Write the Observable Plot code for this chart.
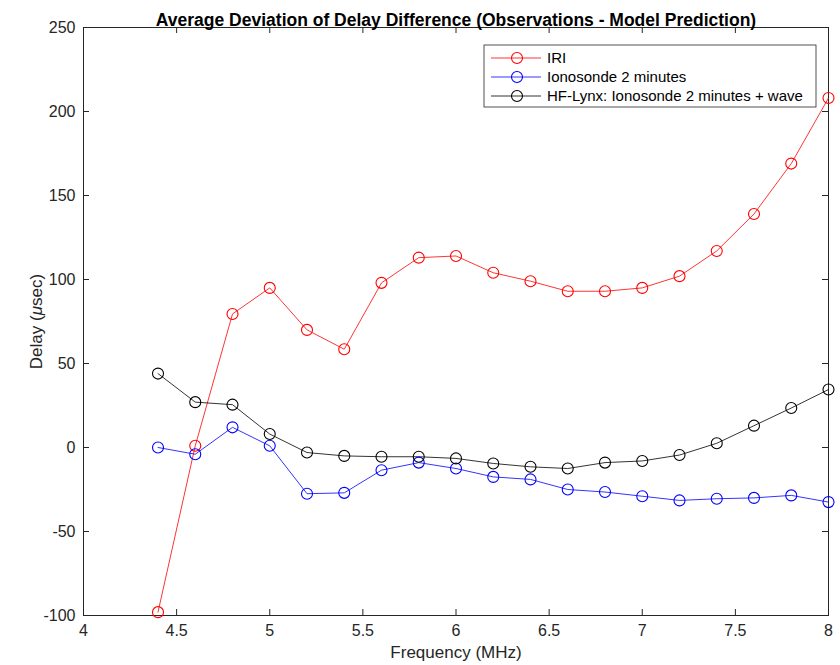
<!DOCTYPE html>
<html><head><meta charset="utf-8">
<script src="https://cdn.jsdelivr.net/npm/d3@7"></script>
<script src="https://cdn.jsdelivr.net/npm/@observablehq/plot@0.6"></script>
<style>
body{margin:0;background:#fff;}
svg{font-family:"Liberation Sans",Arial,sans-serif;}
</style></head>
<body><div id="chart"></div>
<script>
const freqs = [4.4,4.6,4.8,5.0,5.2,5.4,5.6,5.8,6.0,6.2,6.4,6.6,6.8,7.0,7.2,7.4,7.6,7.8,8.0];
const iri = [-98,1,79.5,95,70,58.5,98,113,114,104,99,93,93,95,102,117,139,169,208];
const iono = [0,-4,12,1,-27.5,-27,-13.5,-9,-12.5,-17.5,-19,-25,-26.5,-29,-31.5,-30.5,-30,-28.5,-32.5];
const hflynx = [44,27,25.5,8,-3,-5,-5.5,-5.5,-6.5,-9.5,-11.5,-12.5,-9,-8,-4.5,2.5,13,23.5,34.5];
const seriesNames = ["IRI","Ionosonde 2 minutes","HF-Lynx: Ionosonde 2 minutes + wave"];
const seriesColors = ["#ff0000","#0000ff","#000000"];
const xTicks = [4,4.5,5,5.5,6,6.5,7,7.5,8];
const yTicks = [-100,-50,0,50,100,150,200,250];
const title = "Average Deviation of Delay Difference (Observations - Model Prediction)";

const values = [iri, iono, hflynx];
const data = [];
seriesNames.forEach((s, i) => freqs.forEach((f, j) => data.push({series: s, f, v: values[i][j]})));

const W = 840, H = 665, mL = 83, mR = 12, mT = 27, mB = 50, tickLen = 6;
const plotW = W - mL - mR, plotH = H - mT - mB;
const axisColor = "#262626";
const chart = Plot.plot({
  width: W, height: H,
  marginLeft: mL, marginRight: mR, marginTop: mT, marginBottom: mB,
  style: {fontFamily: "Liberation Sans, Arial, sans-serif", fontSize: "16px", color: axisColor, background: "#fff"},
  x: {domain: [4, 8]},
  y: {domain: [-100, 250]},
  color: {domain: seriesNames, range: seriesColors},
  marks: [
    Plot.frame({stroke: axisColor, strokeWidth: 1}),
    Plot.tickX(xTicks, {x: d => d, insetTop: plotH - tickLen, stroke: axisColor}),
    Plot.tickX(xTicks, {x: d => d, insetBottom: plotH - tickLen, stroke: axisColor}),
    Plot.tickY(yTicks, {y: d => d, insetRight: plotW - tickLen, stroke: axisColor}),
    Plot.tickY(yTicks, {y: d => d, insetLeft: plotW - tickLen, stroke: axisColor}),
    Plot.axisX({anchor: "bottom", ticks: xTicks, tickFormat: d => String(d), tickSize: 0, tickPadding: 9, fill: axisColor, fontSize: 16,
      label: "Frequency (MHz)", labelAnchor: "center", labelOffset: 42, labelArrow: "none"}),
    Plot.axisY({anchor: "left", ticks: yTicks, tickFormat: d => String(d), tickSize: 0, tickPadding: 8, fill: axisColor, fontSize: 16,
      label: "Delay (μsec)", labelAnchor: "center", labelOffset: 54, labelArrow: "none"}),
    Plot.line(data, {x: "f", y: "v", z: "series", stroke: "series", strokeWidth: 0.8}),
    Plot.dot(data, {x: "f", y: "v", stroke: "series", r: 5.5, strokeWidth: 1.1, fill: "none"}),
    Plot.text([title], {text: d => d, frameAnchor: "top", dy: -14, fontWeight: "bold", fontSize: 17.5, fill: "#000"})
  ]
});
document.getElementById("chart").appendChild(chart);

const svg = d3.select(chart);
svg.selectAll("text").each(function() {
  const t = d3.select(this);
  if (t.text() === "Delay (μsec)") {
    t.text("");
    t.append("tspan").text("Delay (");
    t.append("tspan").attr("font-style", "italic").text("μ");
    t.append("tspan").text("sec)");
  }
  if (t.text() === "Frequency (MHz)" || t.text().startsWith("Delay")) t.attr("font-size", 17);
});

// legend
const lg = svg.append("g").attr("font-size", 15).attr("fill", "#000").attr("text-anchor", "start");
const lx = 484, ly = 45, lw = 332, lh = 62;
lg.append("rect").attr("x", lx).attr("y", ly).attr("width", lw).attr("height", lh)
  .attr("fill", "#fff").attr("stroke", axisColor).attr("stroke-width", 0.8);
seriesNames.forEach((s, i) => {
  const yy = ly + 13 + i * 19;
  lg.append("line").attr("x1", lx + 7).attr("x2", lx + 57).attr("y1", yy).attr("y2", yy)
    .attr("stroke", seriesColors[i]).attr("stroke-width", 0.8);
  lg.append("circle").attr("cx", lx + 33).attr("cy", yy).attr("r", 5.5)
    .attr("fill", "none").attr("stroke", seriesColors[i]).attr("stroke-width", 1.1);
  lg.append("text").attr("x", lx + 63).attr("y", yy).attr("dy", "0.35em").attr("fill", "#000").text(s);
});
</script></body></html>
